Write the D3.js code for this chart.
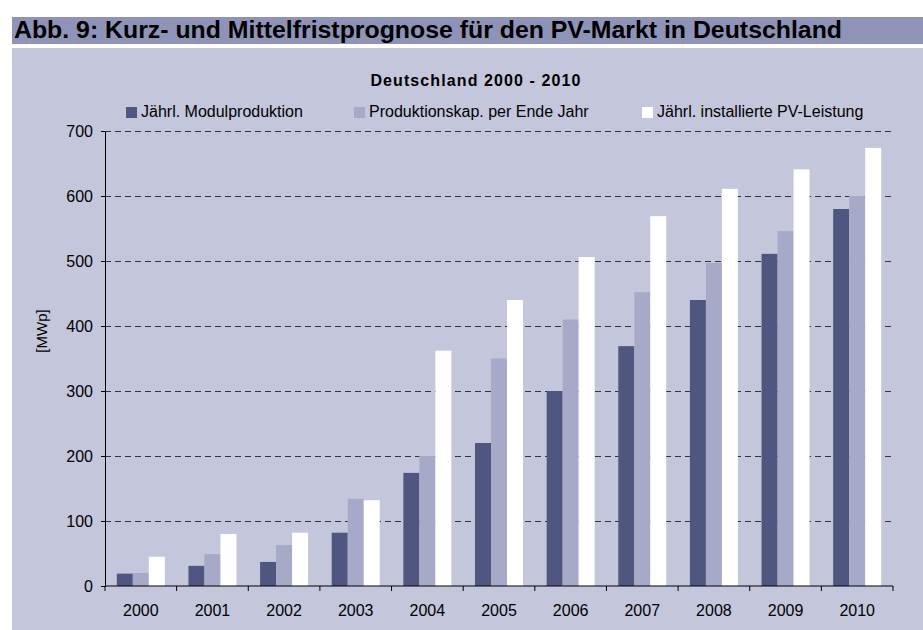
<!DOCTYPE html>
<html>

<head>
  <title>Kurz- und Mittelfristprognose PV-Markt</title>
  <meta charset="utf-8">
  <style>
    body {
      padding: 0;
      margin: 0;
      background: white;
      font-family: "Liberation Sans", Arial, sans-serif;
    }
    .grid line {
      stroke: #333;
      stroke-dasharray: 6, 4;
    }
    .axis path, .axis line {
      stroke: black;
    }
    .axis text {
      fill: black;
      font-size: 16px;
    }
    .legend text {
      font-size: 16px;
      fill: black;
    }
  </style>
</head>

<body>
  <div id="chart"></div>

  <script src="https://d3js.org/d3.v7.min.js"></script>
  <script>
      // data
      var years = ["2000","2001","2002","2003","2004","2005","2006","2007","2008","2009","2010"]
      var seriesNames = ["Jährl. Modulproduktion", "Produktionskap. per Ende Jahr", "Jährl. installierte PV-Leistung"]
      var modulproduktion = [19, 31, 37, 82, 174, 220, 300, 369, 440, 511, 580]
      var produktionskap = [20, 49, 63, 134, 200, 350, 410, 452, 497, 546, 600]
      var installiert = [45, 80, 82, 132, 362, 440, 506, 569, 611, 641, 674]
      var yTicks = [0, 100, 200, 300, 400, 500, 600, 700]

      var colors = ["#4f5781", "#a6aac8", "#ffffff"]

      var width = 923,
          height = 630

      var svg = d3.select("#chart")
        .append("svg")
        .attr("width", width)
        .attr("height", height)

      // title bar
      svg.append("rect")
        .attr("x", 12).attr("y", 17)
        .attr("width", width - 12).attr("height", 27)
        .attr("fill", "#8f93b8")

      svg.append("text")
        .attr("x", 14).attr("y", 38)
        .attr("textLength", 828)
        .attr("lengthAdjust", "spacingAndGlyphs")
        .style("font-family", "'Liberation Sans Narrow', 'Arial Narrow', 'Liberation Sans', Arial, sans-serif")
        .style("font-weight", "bold")
        .style("font-size", "23px")
        .text("Abb. 9: Kurz- und Mittelfristprognose für den PV-Markt in Deutschland")

      // panel background
      svg.append("rect")
        .attr("x", 12).attr("y", 48)
        .attr("width", width - 12).attr("height", height - 48)
        .attr("fill", "#c4c6dc")

      // chart subtitle
      svg.append("text")
        .attr("x", 476).attr("y", 86)
        .attr("text-anchor", "middle")
        .style("font-weight", "bold")
        .style("font-size", "16px")
        .style("letter-spacing", "1.1px")
        .text("Deutschland 2000 - 2010")

      // plot area
      var plotLeft = 105, plotRight = 893, plotTop = 131, plotBottom = 586

      var x = d3.scaleBand()
        .domain(years)
        .range([plotLeft, plotRight])

      var groupWidth = 48
      var x1 = d3.scaleBand()
        .domain(d3.range(3))
        .range([(x.bandwidth() - groupWidth) / 2, (x.bandwidth() + groupWidth) / 2])

      var y = d3.scaleLinear()
        .domain([0, 700])
        .range([plotBottom, plotTop])

      // dashed grid lines
      svg.append("g")
        .attr("class", "grid")
        .selectAll("line")
        .data(yTicks.slice(1))
        .enter().append("line")
        .attr("x1", plotLeft).attr("x2", plotRight)
        .attr("y1", function (d) { return Math.round(y(d)) + 0.5 })
        .attr("y2", function (d) { return Math.round(y(d)) + 0.5 })

      // bars, one group per year
      var table = years.map(function (yr, i) {
        return [modulproduktion[i], produktionskap[i], installiert[i]]
      })

      svg.append("g")
        .selectAll("g")
        .data(table)
        .enter().append("g")
        .attr("transform", function (d, i) { return "translate(" + x(years[i]) + ",0)" })
        .selectAll("rect")
        .data(function (d) { return d })
        .enter().append("rect")
        .attr("x", function (d, j) { return x1(j) })
        .attr("width", x1.bandwidth())
        .attr("y", function (d) { return y(d) })
        .attr("height", function (d) { return plotBottom - y(d) })
        .attr("fill", function (d, j) { return colors[j] })

      // y axis
      svg.append("g")
        .attr("class", "axis")
        .attr("transform", "translate(" + plotLeft + ",0)")
        .call(d3.axisLeft(y).tickValues(yTicks).tickSize(4).tickSizeOuter(0).tickPadding(8))

      // x axis with ticks between the years
      var xAxis = svg.append("g")
        .attr("class", "axis")
        .attr("transform", "translate(0," + plotBottom + ")")

      xAxis.append("line")
        .attr("x1", plotLeft).attr("x2", plotRight)

      xAxis.selectAll(".sep")
        .data(years.concat(["end"]))
        .enter().append("line")
        .attr("class", "sep")
        .attr("x1", function (d, i) { return plotLeft + i * x.step() })
        .attr("x2", function (d, i) { return plotLeft + i * x.step() })
        .attr("y2", 5)

      xAxis.selectAll(".lbl")
        .data(years)
        .enter().append("text")
        .attr("class", "lbl")
        .attr("x", function (d) { return x(d) + x.bandwidth() / 2 })
        .attr("y", 30)
        .attr("text-anchor", "middle")
        .text(function (d) { return d })

      // y axis label
      svg.append("text")
        .attr("transform", "translate(47,331) rotate(-90)")
        .attr("text-anchor", "middle")
        .style("font-size", "15px")
        .text("[MWp]")

      // legend
      var legendX = [126, 354, 642]
      var legend = svg.append("g")
        .attr("class", "legend")
        .selectAll("g")
        .data(seriesNames)
        .enter().append("g")
        .attr("transform", function (d, i) { return "translate(" + legendX[i] + ",0)" })

      legend.append("rect")
        .attr("y", 107)
        .attr("width", 11)
        .attr("height", 11)
        .attr("fill", function (d, i) { return colors[i] })

      legend.append("text")
        .attr("x", 15)
        .attr("y", 117)
        .text(function (d) { return d })

  </script>
</body>

</html>
